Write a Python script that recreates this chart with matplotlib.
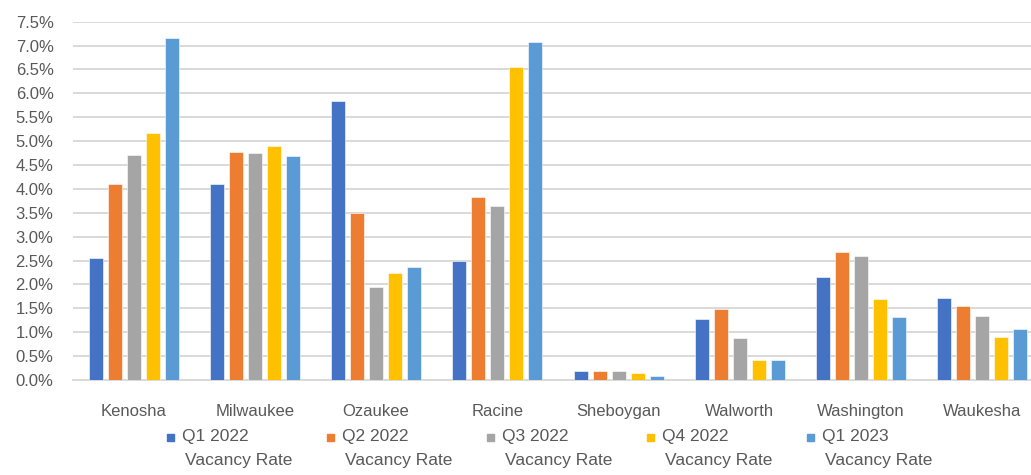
import matplotlib
matplotlib.use("Agg")
import matplotlib.pyplot as plt
import numpy as np
from matplotlib.patches import Rectangle
from matplotlib.ticker import FuncFormatter, MultipleLocator

plt.rcParams["font.family"] = ["Liberation Sans", "DejaVu Sans"]

counties = ["Kenosha", "Milwaukee", "Ozaukee", "Racine", "Sheboygan",
            "Walworth", "Washington", "Waukesha"]
series_labels = ["Q1 2022", "Q2 2022", "Q3 2022", "Q4 2022", "Q1 2023"]

# vacancy rate, percent
q1_2022 = [2.56, 4.10, 5.84, 2.49, 0.19, 1.28, 2.16, 1.72]
q2_2022 = [4.10, 4.78, 3.50, 3.83, 0.19, 1.49, 2.67, 1.54]
q3_2022 = [4.71, 4.75, 1.94, 3.65, 0.19, 0.88, 2.60, 1.35]
q4_2022 = [5.18, 4.89, 2.23, 6.56, 0.15, 0.41, 1.69, 0.89]
q1_2023 = [7.16, 4.68, 2.37, 7.07, 0.08, 0.41, 1.32, 1.06]
series = [q1_2022, q2_2022, q3_2022, q4_2022, q1_2023]

colors = ["#4472C4", "#ED7D31", "#A5A5A5", "#FFC000", "#5B9BD5"]
grid_color = "#D9D9D9"
text_color = "#595959"

W, H = 1031, 475
fig = plt.figure(figsize=(W / 100, H / 100), dpi=100)

# plot area in pixels: left 73, right 1043 (runs past the edge), y 21.7..380
left_px, right_px, top_px, bottom_px = 73, 1043, 21.7, 380
ax = fig.add_axes([left_px / W, 1 - bottom_px / H,
                   (right_px - left_px) / W, (bottom_px - top_px) / H])

x = np.arange(len(counties))
step = 0.157
bw = 0.115
for i, (vals, c) in enumerate(zip(series, colors)):
    ax.bar(x + (i - 2) * step, vals, width=bw, color=c,
           edgecolor="white", linewidth=0.4, zorder=3)

ax.set_xlim(-0.5, len(counties) - 0.5)
ax.set_ylim(0, 7.5)
ax.yaxis.set_major_locator(MultipleLocator(0.5))
ax.yaxis.set_major_formatter(FuncFormatter(lambda v, _: f"{v:.1f}%"))
ax.set_xticks(x)
ax.set_xticklabels(counties)

ax.grid(axis="y", color=grid_color, linewidth=1.4, zorder=0)
ax.set_axisbelow(True)
for side in ["top", "right", "left"]:
    ax.spines[side].set_visible(False)
ax.spines["bottom"].set_color(grid_color)
ax.spines["bottom"].set_linewidth(1.4)
ax.tick_params(axis="both", length=0, labelsize=12, colors=text_color)
ax.tick_params(axis="x", pad=17)
ax.tick_params(axis="y", pad=14)

# legend: square marker beside a two-line label
leg_x = [167, 327, 487, 647, 807]
row1_y, row2_y = 437, 461
msize = 7
for lx, lab, c in zip(leg_x, series_labels, colors):
    fig.add_artist(Rectangle((lx / W, 1 - (row1_y + msize / 2) / H),
                             msize / W, msize / H,
                             transform=fig.transFigure, color=c))
    fig.text((lx + 15) / W, 1 - row1_y / H, lab, ha="left", va="center",
             fontsize=12.5, color=text_color)
    fig.text((lx + 18) / W, 1 - row2_y / H, "Vacancy Rate", ha="left",
             va="center", fontsize=12.5, color=text_color)

fig.savefig("out.png", dpi=100)
